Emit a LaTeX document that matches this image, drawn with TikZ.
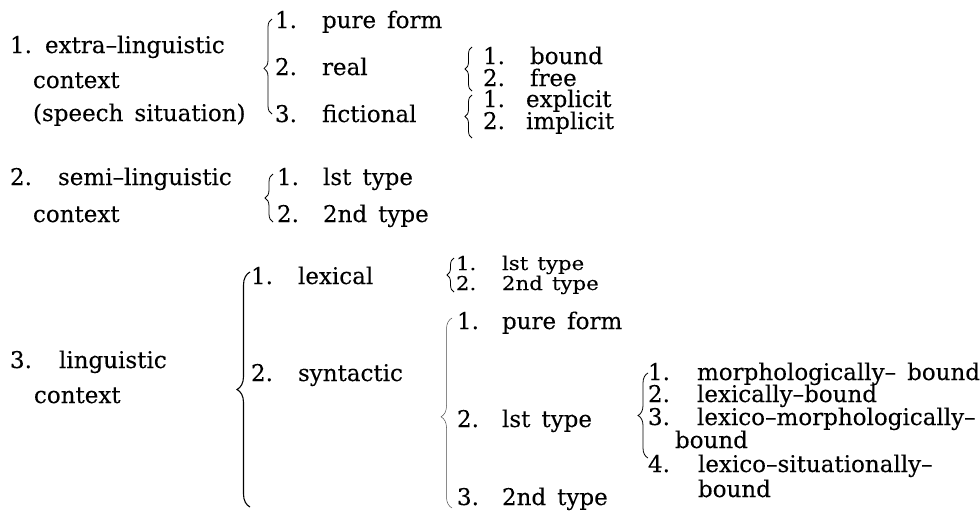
\documentclass[tikz,border=0pt]{standalone}
\usepackage{fontspec}
\setmainfont{DejaVu Serif}[FakeBold=0.15]
\newfontfamily\widefam{DejaVu Serif}[FakeBold=0.15, FakeStretch=1.12]
\usetikzlibrary{decorations.pathreplacing}
% wider word spaces, as in the printed scheme
\newcommand\widewords{\spaceskip=0.48em\relax}
\newcommand\bigtext{\fontsize{23}{26}\selectfont\widewords}
\newcommand\smalltext{\widefam\fontsize{19}{20}\selectfont\widewords}

\begin{document}
\begin{tikzpicture}[x=1pt,y=-1pt,
  lbl/.style={anchor=base west, inner sep=0pt, outer sep=0pt, font=\bigtext},
  small/.style={font=\smalltext},
  curly/.style 2 args={decorate, line width=0.8pt,
    decoration={brace, amplitude=#1, aspect=#2}}]
\useasboundingbox (0,0) rectangle (980,512);

% ---------- 1. extra-linguistic context ----------
\node[lbl] (t1n) at (10,53)  {1.};
\node[lbl] (t1a) at (45,53)  {extra–linguistic};
\node[lbl] (t1b) at (33,88)  {context};
\node[lbl] (t1c) at (33,121) {(speech situation)};

\node[lbl] (a1n) at (275,28)  {1.};
\node[lbl] (a1)  at (322,28)  {pure form};
\node[lbl] (a2n) at (275,75)  {2.};
\node[lbl] (a2)  at (322,75)  {real};
\node[lbl] (a3n) at (275,122) {3.};
\node[lbl] (a3)  at (322,122) {fictional};

\node[lbl] (b1n) at (483,64)  {1.};
\node[lbl] (b1)  at (530,64)  {bound};
\node[lbl] (b2n) at (483,86)  {2.};
\node[lbl] (b2)  at (530,86)  {free};
\node[lbl] (c1n) at (483,107) {1.};
\node[lbl] (c1)  at (526,107) {explicit};
\node[lbl] (c2n) at (483,129) {2.};
\node[lbl] (c2)  at (526,129) {implicit};

\coordinate (bAt) at (272,19);  \coordinate (bAb) at (272,114);
\coordinate (bBt) at (472,47);  \coordinate (bBb) at (472,91);
\coordinate (bCt) at (472,95);  \coordinate (bCb) at (472,138);
\draw[curly={8}{0.48}] (bAb) -- (bAt);
\draw[curly={7}{0.5}]  (bBb) -- (bBt);
\draw[curly={7}{0.5}]  (bCb) -- (bCt);

% ---------- 2. semi-linguistic context ----------
\node[lbl] (t2n) at (10,185) {2.};
\node[lbl] (t2a) at (58,185) {semi–linguistic};
\node[lbl] (t2b) at (33,222) {context};

\node[lbl] (d1n) at (277,185) {1.};
\node[lbl] (d1)  at (323,185) {lst type};
\node[lbl] (d2n) at (277,222) {2.};
\node[lbl] (d2)  at (323,222) {2nd type};

\coordinate (bDt) at (273,174); \coordinate (bDb) at (273,222);
\draw[curly={8}{0.5}] (bDb) -- (bDt);

% ---------- 3. linguistic context ----------
\node[lbl] (t3n) at (10,368) {3.};
\node[lbl] (t3a) at (59,368) {linguistic};
\node[lbl] (t3b) at (34,403) {context};

\node[lbl] (e1n) at (251,284) {1.};
\node[lbl] (e1)  at (298,284) {lexical};
\node[lbl] (e2n) at (251,381) {2.};
\node[lbl] (e2)  at (298,381) {syntactic};

\node[lbl, small] (f1n) at (456,270) {1.};
\node[lbl, small] (f1)  at (502,270) {lst type};
\node[lbl, small] (f2n) at (456,290) {2.};
\node[lbl, small] (f2)  at (502,290) {2nd type};

\node[lbl] (g1n) at (457,329) {1.};
\node[lbl] (g1)  at (502,329) {pure form};
\node[lbl] (g2n) at (457,427) {2.};
\node[lbl] (g2)  at (502,427) {lst type};
\node[lbl] (g3n) at (457,505) {3.};
\node[lbl] (g3)  at (502,505) {2nd type};

\node[lbl] (h1n) at (648,380) {1.};
\node[lbl] (h1)  at (697,380) {morphologically– bound};
\node[lbl] (h2n) at (648,402) {2.};
\node[lbl] (h2)  at (697,402) {lexically–bound};
\node[lbl] (h3n) at (648,425) {3.};
\node[lbl] (h3)  at (697,425) {lexico–morphologically–};
\node[lbl] (h3b) at (675,448) {bound};
\node[lbl] (h4n) at (648,472) {4.};
\node[lbl] (h4)  at (698,472) {lexico–situationally–};
\node[lbl] (h4b) at (698,497) {bound};

\coordinate (bEt) at (250,272); \coordinate (bEb) at (250,507);
\coordinate (bFt) at (454,258); \coordinate (bFb) at (454,292);
\coordinate (bGt) at (452,318); \coordinate (bGb) at (452,508);
\coordinate (bHt) at (648,373); \coordinate (bHb) at (648,458);
\draw[curly={13}{0.5}, line width=1.1pt] (bEb) -- (bEt);
\draw[curly={7}{0.5}] (bFb) -- (bFt);
\draw[curly={11}{0.48}, line width=0.5pt, black!70] (bGb) -- (bGt);
\draw[curly={10}{0.5}] (bHb) -- (bHt);
\end{tikzpicture}
\end{document}
